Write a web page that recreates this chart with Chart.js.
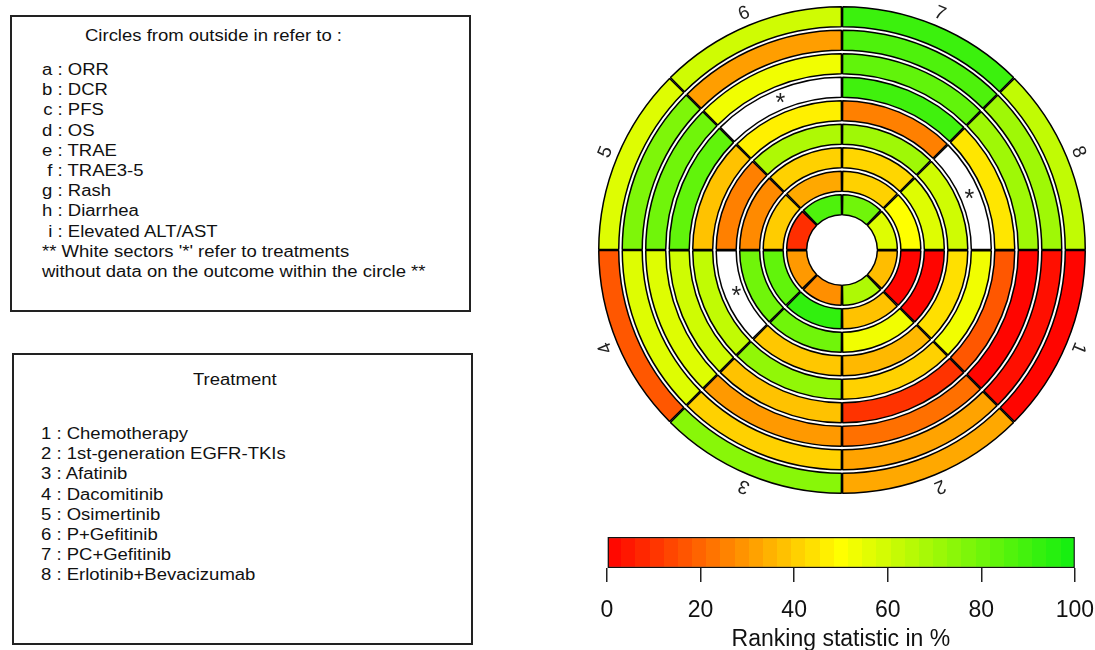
<!DOCTYPE html>
<html>
<head>
<meta charset="utf-8">
<script src="https://cdn.jsdelivr.net/npm/chart.js@4.4.0/dist/chart.umd.min.js"></script>
<style>
  html, body { margin: 0; padding: 0; width: 1095px; height: 650px; overflow: hidden; background: #fff; }
  body { position: relative; font-family: "Liberation Sans", Arial, sans-serif; color: #111; }
  .box { position: absolute; border: 2px solid #222; box-sizing: border-box; }
  .txt { position: absolute; font-size: 16px; line-height: 20.2px; white-space: pre;
         transform: scaleX(1.156); transform-origin: 0 0; }
  .k { display: inline-block; width: 9px; text-align: right; }
  canvas { position: absolute; }
</style>
</head>
<body>
<div class="box" style="left:10px;top:15px;width:461px;height:297px;"></div>
<div class="txt" style="left:85px;top:26px;">Circles from outside in refer to :</div>
<div class="txt" id="outcomeList" style="left:42px;top:60px;"></div>

<div class="box" style="left:12px;top:353px;width:461px;height:292px;"></div>
<div class="txt" style="left:193px;top:370px;">Treatment</div>
<div class="txt" id="treatList" style="left:41px;top:424px;"></div>

<canvas id="ring" width="540" height="540" style="left:572px;top:-20px;"></canvas>
<canvas id="bar" width="529" height="123" style="left:580px;top:530px;"></canvas>

<script>
const treatments = ["1", "2", "3", "4", "5", "6", "7", "8"];
const treatmentNames = ["Chemotherapy", "1st-generation EGFR-TKIs", "Afatinib", "Dacomitinib",
  "Osimertinib", "P+Gefitinib", "PC+Gefitinib", "Erlotinib+Bevacizumab"];
const outcomeKeys = ["a", "b", "c", "d", "e", "f", "g", "h", "i"];
const outcomeNames = ["ORR", "DCR", "PFS", "OS", "TRAE", "TRAE3-5", "Rash", "Diarrhea", "Elevated ALT/AST"];

// ranking statistic in % for treatments 1..8 (null = no data, white sector)
const orr      = [1, 33, 75, 17, 57, 60, 91, 63];
const dcr      = [3, 32, 41, 57, 77, 31, 87, 70];
const pfs      = [1, 22, 30, 57, 80, 53, 83, 70];
const os       = [17, 10, 38, 60, 83, null, 90, 45];
const trae     = [53, 41, 73, 63, 38, 47, 25, null];
const trae35   = [44, 36, 39, null, 25, 67, 70, 60];
const rash     = [1, 53, 80, 80, 27, 41, 42, 57];
const diarrhea = [1, 38, 93, 83, 40, 33, 41, 50];
const altAst   = [37, 67, 28, 30, 9, 87, 80, 57];

const colorTicks = [0, 20, 40, 60, 80, 100];

const FONT = '"Liberation Sans", Arial, sans-serif';

// legend texts
document.getElementById("outcomeList").innerHTML =
  outcomeKeys.map((k, i) => `<span class="k">${k}</span> : ${outcomeNames[i]}`).join("\n") +
  "\n** White sectors '*' refer to treatments\nwithout data on the outcome within the circle **";
document.getElementById("treatList").textContent =
  treatments.map((t, i) => `${t} : ${treatmentNames[i]}`).join("\n");

// red -> yellow -> green
function rankColor(v) {
  let r, g, b;
  if (v <= 50) {
    r = 255; g = 255 * v / 50; b = 0;
  } else {
    const t = (v - 50) / 50;
    r = 255 + (16 - 255) * t; g = 255 + (238 - 255) * t; b = 16 * t;
  }
  return `rgb(${Math.round(r)},${Math.round(g)},${Math.round(b)})`;
}

const rings = [orr, dcr, pfs, os, trae, trae35, rash, diarrhea, altAst];
const datasets = [];
rings.forEach((vals, i) => {
  if (i > 0) {
    // white gap between circles
    datasets.push({
      data: treatments.map(() => 1),
      weight: 3.5,
      backgroundColor: "rgba(0,0,0,0)",
      borderWidth: 0,
      hoverBorderWidth: 0,
      spacing: 3
    });
  }
  datasets.push({
    label: outcomeNames[i],
    data: treatments.map(() => 1),
    ranks: vals,
    weight: 20,
    backgroundColor: vals.map(v => v === null ? "#ffffff" : rankColor(v)),
    borderColor: "#000",
    borderWidth: 1.5,
    hoverBorderWidth: 1.5,
    spacing: 3
  });
});

const ringText = {
  id: "ringText",
  afterDatasetsDraw(chart) {
    const ctx = chart.ctx;
    ctx.save();
    ctx.fillStyle = "#222";
    ctx.textAlign = "center";
    ctx.textBaseline = "middle";

    // treatment numbers round the outside
    ctx.font = "19px " + FONT;
    chart.getDatasetMeta(0).data.forEach((arc, i) => {
      const mid = (arc.startAngle + arc.endAngle) / 2;
      const r = arc.outerRadius + 14;
      ctx.save();
      ctx.translate(arc.x + Math.cos(mid) * r, arc.y + Math.sin(mid) * r);
      ctx.rotate(mid + Math.PI / 2);
      ctx.fillText(treatments[i], 0, 0);
      ctx.restore();
    });

    // asterisks in sectors without data
    ctx.font = "25px " + FONT;
    chart.data.datasets.forEach((ds, di) => {
      if (!ds.ranks) return;
      chart.getDatasetMeta(di).data.forEach((arc, i) => {
        if (ds.ranks[i] !== null) return;
        const mid = (arc.startAngle + arc.endAngle) / 2;
        const r = (arc.innerRadius + arc.outerRadius) / 2;
        ctx.fillText("*", arc.x + Math.cos(mid) * r, arc.y + Math.sin(mid) * r + 3);
      });
    });
    ctx.restore();
  }
};

new Chart(document.getElementById("ring"), {
  type: "doughnut",
  data: { labels: treatments, datasets: datasets },
  options: {
    responsive: false,
    animation: false,
    events: [],
    rotation: 90,
    cutout: "14%",
    layout: { padding: 26 },
    plugins: { legend: { display: false }, tooltip: { enabled: false } }
  },
  plugins: [ringText]
});

// colour key
function barGradient(chart) {
  const a = chart.chartArea;
  if (!a) return "#ffff00";
  const g = chart.ctx.createLinearGradient(a.left, 0, a.right, 0);
  const n = 33;
  for (let k = 0; k < n; k++) {
    const c = rankColor((k + 0.5) * 100 / n);
    g.addColorStop(k / n, c);
    g.addColorStop((k + 1) / n, c);
  }
  return g;
}

new Chart(document.getElementById("bar"), {
  type: "bar",
  data: {
    labels: [""],
    datasets: [{
      data: [[colorTicks[0], colorTicks[colorTicks.length - 1]]],
      backgroundColor: ctx => barGradient(ctx.chart),
      borderColor: "#111",
      borderWidth: 1.5,
      borderSkipped: false,
      barPercentage: 1,
      categoryPercentage: 1
    }]
  },
  options: {
    indexAxis: "y",
    responsive: false,
    animation: false,
    events: [],
    layout: { padding: { left: 27, right: 21, top: 7, bottom: 0 } },
    plugins: { legend: { display: false }, tooltip: { enabled: false } },
    scales: {
      x: {
        min: colorTicks[0],
        max: colorTicks[colorTicks.length - 1],
        afterBuildTicks: axis => { axis.ticks = colorTicks.map(v => ({ value: v })); },
        afterFit: axis => { axis.height = 85; },
        ticks: { font: { size: 23, family: FONT }, color: "#111", padding: 15, maxRotation: 0 },
        grid: { drawOnChartArea: false, tickLength: 14, color: "#222", lineWidth: 1.5 },
        border: { display: false },
        title: {
          display: true,
          text: "Ranking statistic in %",
          font: { size: 23, family: FONT },
          color: "#111",
          padding: { top: 2, bottom: 0 }
        }
      },
      y: { display: false }
    }
  }
});
</script>
</body>
</html>
